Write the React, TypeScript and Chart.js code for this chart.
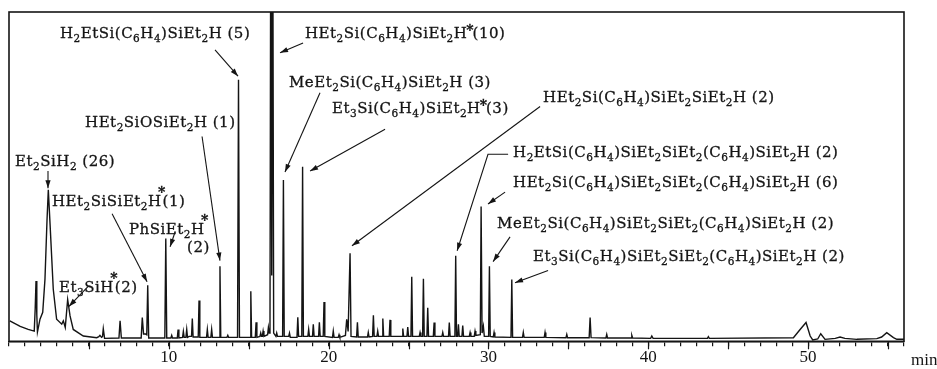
import { useEffect, useRef } from 'react';
import { Chart, registerables } from 'chart.js';

Chart.register(...registerables);

// ---- data (retention time in min, detector signal in arbitrary units, 0-100 = full frame) ----
const times = [
  0.05, 0.7, 1.2, 1.58, 1.64, 1.69, 1.74, 1.78, 1.94, 2.11, 2.25, 2.38, 2.46, 2.57, 2.77, 2.98,
  3.3, 3.4, 3.52, 3.67, 3.82, 4.02, 4.65, 5.49, 5.62, 5.69, 5.79, 5.85, 5.9, 5.98,
  6.88, 6.95, 7.03, 8.27, 8.34, 8.42, 8.55, 8.62, 8.68, 8.74, 9.75, 9.81, 9.87,
  10.13, 10.18, 10.23, 10.53, 10.58, 10.63, 10.86, 10.91, 10.96, 11.07, 11.12, 11.17,
  11.27, 11.42, 11.47, 11.52, 11.84, 11.89, 11.94, 12.36, 12.41, 12.46, 12.63, 12.68, 12.73,
  13.15, 13.2, 13.25, 13.64, 13.69, 13.74, 14.3, 14.36, 14.42, 15.08, 15.13, 15.18,
  15.41, 15.46, 15.51, 15.7, 15.75, 15.8, 15.85, 15.9, 15.95, 16.18, 16.23, 16.28,
  16.33, 16.38, 16.44, 16.5, 16.56, 16.7, 16.75, 16.8, 17.12, 17.17, 17.22, 17.5, 17.55, 17.6,
  18.02, 18.07, 18.12, 18.32, 18.37, 18.42, 18.7, 18.75, 18.8, 18.99, 19.04, 19.09,
  19.37, 19.42, 19.47, 19.66, 19.71, 19.76, 20.24, 20.29, 20.34, 20.6, 20.65, 20.7,
  21.05, 21.13, 21.22, 21.34, 21.4, 21.75, 21.8, 21.85, 22.43, 22.48, 22.53,
  22.75, 22.8, 22.85, 23.02, 23.07, 23.12, 23.34, 23.39, 23.44, 23.79, 23.84, 23.89,
  24.59, 24.64, 24.69, 24.9, 24.95, 25.0, 25.15, 25.2, 25.25, 25.67, 25.72, 25.77,
  25.88, 25.93, 25.98, 26.15, 26.2, 26.25, 26.55, 26.6, 26.65, 27.09, 27.14, 27.19,
  27.5, 27.55, 27.6, 27.9, 27.95, 28.0, 28.07, 28.12, 28.17, 28.34, 28.39, 28.44,
  28.8, 28.85, 28.9, 29.11, 29.16, 29.21, 29.49, 29.54, 29.6, 29.68, 29.74,
  30.01, 30.06, 30.11, 30.3, 30.35, 30.4, 31.41, 31.46, 31.51, 32.13, 32.18, 32.23,
  33.49, 33.54, 33.59, 34.85, 34.9, 34.95, 36.3, 36.36, 36.42, 37.35, 37.4, 37.45,
  38.92, 38.97, 39.02, 40.15, 40.22, 40.3, 43.7, 43.76, 43.82,
  49.08, 49.5, 49.87, 50.13, 50.29, 50.6, 50.79, 51.06, 51.7, 52.0, 52.3, 53.05,
  54.3, 54.6, 54.92, 55.34, 55.55, 56,
];

const signal = [
  6.2, 4.5, 3.6, 3.1, 10, 18.3, 8, 2.8, 6.7, 8.8, 18.8, 37, 46, 35.5, 15.8, 6.7,
  5.2, 6.2, 4.2, 12.7, 7.7, 3.6, 1.6, 1.1, 1.4, 1.8, 1.2, 1.4, 3.8, 0.9,
  1.0, 6.2, 1.0, 1.0, 7.2, 2.2, 2.2, 2.0, 17, 1.0, 1.0, 31.2, 1.0,
  1.0, 1.8, 1.0, 1.0, 3.6, 1.0, 1.2, 3.0, 1.2, 1.2, 3.6, 1.2,
  1.5, 1.5, 6.9, 1.3, 1.3, 12.4, 1.2, 1.2, 3.6, 1.2, 1.2, 3.6, 1.2,
  1.2, 22.8, 1.2, 1.2, 1.8, 1.2, 1.2, 79.4, 1.2, 1.2, 15.2, 1.2,
  1.2, 5.8, 1.2, 1.5, 2.5, 1.5, 1.5, 3.1, 1.5, 2.0, 4.2, 2.5,
  3.0, 140, 20, 140, 2.5, 1.5, 2.5, 1.5, 1.5, 49, 1.5, 1.5, 2.5, 1.2,
  1.2, 7.3, 1.5, 1.5, 53, 1.5, 1.5, 3.6, 1.5, 1.5, 5.2, 1.5,
  1.5, 5.8, 1.5, 1.5, 11.9, 1.5, 1.2, 3.1, 1.2, 1.2, 2.0, 1.2,
  1.8, 6.7, 3.0, 26.7, 1.5, 1.3, 5.8, 1.3, 1.3, 2.7, 1.3,
  1.5, 7.9, 1.5, 1.5, 3.1, 1.5, 1.5, 6.9, 1.5, 1.5, 6.5, 1.5,
  1.5, 3.9, 1.5, 1.5, 4.3, 1.5, 1.5, 19.6, 1.5, 1.5, 2.7, 1.5,
  1.5, 19, 1.5, 1.5, 10.2, 1.5, 1.5, 5.7, 1.5, 1.5, 2.7, 1.5,
  1.5, 5.7, 1.5, 1.5, 26, 1.5, 1.5, 5.2, 1.5, 1.5, 4.8, 1.5,
  1.5, 2.7, 1.5, 1.5, 3.1, 1.8, 2.0, 40.9, 2.5, 4.6, 1.5,
  1.5, 22.8, 1.5, 1.3, 2.7, 1.3, 1.2, 18.8, 1.2, 1.2, 2.7, 1.2,
  1.2, 2.7, 1.2, 1.1, 2.1, 1.1, 1.1, 7.2, 1.1, 1.0, 2.1, 1.0,
  1.0, 1.8, 1.0, 0.9, 1.6, 0.9, 0.9, 1.4, 0.9,
  1.1, 3.6, 5.7, 1.6, 0.4, 0.7, 2.3, 0.6, 0.9, 1.3, 0.9, 0.6,
  0.8, 1.3, 2.6, 1.1, 0.6, 0.6,
];

const labeledTicks = [10, 20, 30, 40, 50];
const axisUnit = 'min';

// ---- peak annotations: text (markup: _x subscript, ^* raised asterisk, `* asterisk at cap height),
// text anchor and arrow path in data coordinates [min, signal]
type Note = { text: string; at: [number, number]; arrow?: [number, number][] };
const notes: Note[] = [
  { text: 'H_2EtSi(C_6H_4)SiEt_2H (5)', at: [3.19, 92.1], arrow: [[12.89, 88.5], [14.33, 80.5]] },
  { text: 'HEt_2Si(C_6H_4)SiEt_2H`*(10)', at: [18.52, 92.1], arrow: [[18.4, 90.6], [16.96, 87.6]] },
  { text: 'MeEt_2Si(C_6H_4)SiEt_2H (3)', at: [17.52, 77.3], arrow: [[19.46, 75.5], [17.27, 51.4]] },
  { text: 'Et_3Si(C_6H_4)SiEt_2H`*(3)', at: [20.21, 69.2], arrow: [[23.53, 64.4], [18.84, 51.7]] },
  { text: 'HEt_2SiOSiEt_2H (1)', at: [4.76, 65], arrow: [[12.08, 62.2], [13.2, 24.5]] },
  { text: 'Et_2SiH_2 (26)', at: [0.38, 53.2], arrow: [[2.44, 51.7], [2.44, 46.5]] },
  { text: 'HEt_2SiSiEt_2H^*(1)', at: [2.69, 41.1], arrow: [[6.45, 38.7], [8.64, 18.1]] },
  { text: 'PhSiEt_2H^*', at: [7.51, 32.6], arrow: [[10.39, 33.2], [10.08, 28.7]] },
  { text: '(2)', at: [11.14, 27.2] },
  { text: 'Et_3SiH^*(2)', at: [3.13, 15.1], arrow: [[4.94, 16.6], [3.75, 10.6]] },
  { text: 'HEt_2Si(C_6H_4)SiEt_2SiEt_2H (2)', at: [33.42, 72.8], arrow: [[33.23, 71.3], [21.46, 29]] },
  { text: 'H_2EtSi(C_6H_4)SiEt_2SiEt_2(C_6H_4)SiEt_2H (2)', at: [31.54, 55.9], arrow: [[31.23, 56.8], [29.97, 56.8], [28.04, 27.5]] },
  { text: 'HEt_2Si(C_6H_4)SiEt_2SiEt_2(C_6H_4)SiEt_2H (6)', at: [31.54, 46.8], arrow: [[31.04, 45.3], [29.97, 41.7]] },
  { text: 'MeEt_2Si(C_6H_4)SiEt_2SiEt_2(C_6H_4)SiEt_2H (2)', at: [30.54, 34.4], arrow: [[31.35, 31.7], [30.29, 24.2]] },
  { text: 'Et_3Si(C_6H_4)SiEt_2SiEt_2(C_6H_4)SiEt_2H (2)', at: [32.79, 24.5], arrow: [[33.73, 21.5], [31.66, 17.8]] },
];

const INK = '#141414';
const MAIN_FONT = '15px "DejaVu Serif"';
const SUB_FONT = '10.5px "DejaVu Serif"';
const AST_FONT = 'bold 14px "DejaVu Serif"';
const SPACING = 0.5;

function glyph(ctx: CanvasRenderingContext2D, s: string, x: number, y: number) {
  ctx.fillText(s, x, y);
  ctx.strokeText(s, x, y);
}

function drawRich(ctx: CanvasRenderingContext2D, text: string, x: number, y: number) {
  let cx = x;
  ctx.lineWidth = 0.3;
  for (let i = 0; i < text.length; i++) {
    const ch = text[i];
    if (ch === '_') {
      const s = text[++i];
      ctx.font = SUB_FONT;
      glyph(ctx, s, cx, y + 4);
      cx += ctx.measureText(s).width + SPACING;
    } else if (ch === '^') {
      const s = text[++i];
      ctx.font = AST_FONT;
      const w = ctx.measureText(s).width;
      glyph(ctx, s, cx - w / 2, y - 9);
      cx += 1;
    } else if (ch === '`') {
      const s = text[++i];
      ctx.font = AST_FONT;
      const w = ctx.measureText(s).width;
      glyph(ctx, s, cx - 1, y - 3);
      cx += w - 2;
    } else {
      ctx.font = MAIN_FONT;
      glyph(ctx, ch, cx, y);
      cx += ctx.measureText(ch).width + SPACING;
    }
  }
}

function drawArrow(ctx: CanvasRenderingContext2D, pts: [number, number][]) {
  ctx.lineWidth = 1.1;
  ctx.beginPath();
  ctx.moveTo(pts[0][0], pts[0][1]);
  for (let i = 1; i < pts.length; i++) ctx.lineTo(pts[i][0], pts[i][1]);
  ctx.stroke();
  const [x1, y1] = pts[pts.length - 2];
  const [x2, y2] = pts[pts.length - 1];
  const a = Math.atan2(y2 - y1, x2 - x1);
  const L = 8, W = 2.6;
  ctx.beginPath();
  ctx.moveTo(x2, y2);
  ctx.lineTo(x2 - L * Math.cos(a) + W * Math.sin(a), y2 - L * Math.sin(a) - W * Math.cos(a));
  ctx.lineTo(x2 - L * Math.cos(a) - W * Math.sin(a), y2 - L * Math.sin(a) + W * Math.cos(a));
  ctx.closePath();
  ctx.fill();
}

const decorations = {
  id: 'decorations',
  afterDraw(chart: any) {
    const { ctx, chartArea: a, scales } = chart;
    const xs = scales.x, ys = scales.y;
    ctx.save();
    ctx.strokeStyle = INK;
    ctx.fillStyle = INK;
    // frame
    ctx.lineWidth = 1.6;
    ctx.strokeRect(a.left, a.top, a.right - a.left, a.bottom - a.top);
    // longer ticks every 5 min
    ctx.lineWidth = 1.2;
    for (let v = 5; v < xs.max; v += 5) {
      const px = Math.round(xs.getPixelForValue(v)) + 0.5;
      ctx.beginPath();
      ctx.moveTo(px, a.bottom);
      ctx.lineTo(px, a.bottom + 8);
      ctx.stroke();
    }
    // unit
    ctx.font = '17px "Liberation Serif"';
    ctx.textBaseline = 'alphabetic';
    ctx.fillText(axisUnit, a.right + 7, 365);
    // annotations
    for (const n of notes) {
      if (n.arrow) {
        drawArrow(ctx, n.arrow.map(([t, v]) => [xs.getPixelForValue(t), ys.getPixelForValue(v)] as [number, number]));
      }
      drawRich(ctx, n.text, xs.getPixelForValue(n.at[0]), ys.getPixelForValue(n.at[1]));
    }
    ctx.restore();
  },
};

export default function App() {
  const ref = useRef<HTMLCanvasElement>(null);
  useEffect(() => {
    document.body.style.margin = '0';
    const chart = new Chart(ref.current!, {
      type: 'line',
      data: {
        datasets: [
          {
            data: times.map((t, i) => ({ x: t, y: signal[i] })),
            borderColor: INK,
            borderWidth: 1.4,
            pointRadius: 0,
            tension: 0,
            fill: false,
          },
        ],
      },
      options: {
        animation: false,
        responsive: false,
        devicePixelRatio: 1,
        layout: { padding: { left: 9, right: 33, top: 12, bottom: 0 } },
        plugins: { legend: { display: false }, tooltip: { enabled: false } },
        scales: {
          x: {
            type: 'linear',
            min: 0,
            max: 56,
            border: { display: true, color: INK, width: 1.6 },
            grid: { drawOnChartArea: false, drawTicks: true, tickLength: 5, color: INK, lineWidth: 1.2 },
            ticks: {
              stepSize: 1,
              autoSkip: false,
              maxRotation: 0,
              padding: 2,
              color: INK,
              font: { family: 'Liberation Serif', size: 17, lineHeight: 1.1 },
              callback: (v: any) => (labeledTicks.includes(Number(v)) ? String(v) : ''),
            },
          },
          y: { display: false, min: 0, max: 100 },
        },
      },
      plugins: [decorations],
    });
    return () => chart.destroy();
  }, []);
  return (
    <div style={{ width: 937, height: 369, background: '#fff' }}>
      <canvas ref={ref} width={937} height={369} style={{ display: 'block' }} />
    </div>
  );
}
